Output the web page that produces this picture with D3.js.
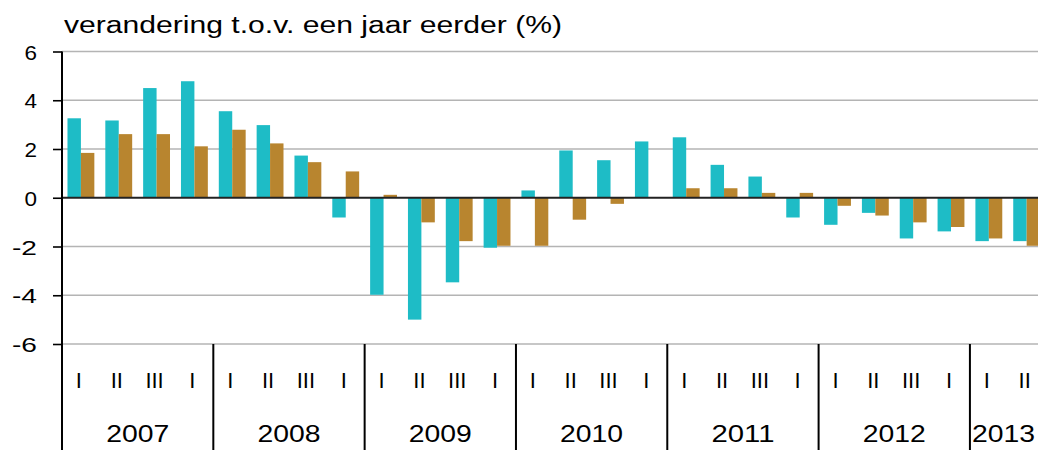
<!DOCTYPE html>
<html><head><meta charset="utf-8">
<script src="https://cdn.jsdelivr.net/npm/d3@7"></script>
<style>
html,body{margin:0;padding:0;background:#fff;overflow:hidden;}
text{font-family:"Liberation Sans",Arial,sans-serif;fill:#000;}
</style></head>
<body>
<svg id="chart" width="1038" height="450"></svg>
<script>
const title = "verandering t.o.v. een jaar eerder (%)";
const years = ["2007","2008","2009","2010","2011","2012","2013"];
const quarterLabels = ["I","II","III","I"];
const quarters = [
 "2007-1","2007-2","2007-3","2007-4","2008-1","2008-2","2008-3","2008-4",
 "2009-1","2009-2","2009-3","2009-4","2010-1","2010-2","2010-3","2010-4",
 "2011-1","2011-2","2011-3","2011-4","2012-1","2012-2","2012-3","2012-4",
 "2013-1","2013-2"];
const seriesA = [3.26,3.17,4.5,4.78, 3.55,2.98,1.73,-0.81, -3.98,-5.0,-3.47,-2.05,
  0.3,1.94,1.54,2.31, 2.48,1.35,0.87,-0.81, -1.11,-0.62,-1.67,-1.38, -1.78,-1.78];
const seriesB = [1.84,2.61,2.61,2.11, 2.79,2.23,1.46,1.08, 0.12,-1.01,-1.78,-1.97,
  -1.97,-0.9,-0.25,0, 0.39,0.39,0.2,0.2, -0.33,-0.73,-1.01,-1.2, -1.67,-1.97];
const yTicks = [-6,-4,-2,0,2,4,6];
const seriesNames = ["a","b"];
const colors = ["#1EBCC6","#B8852F"];

const svg = d3.select("#chart");
const x0 = 62, qw = 37.83;
const x = d3.scaleBand().domain(quarters).range([x0, x0 + qw*quarters.length])
  .paddingInner(0.29).paddingOuter(0.145);
const xs = d3.scaleBand().domain(seriesNames).range([0, x.bandwidth()]);
const y = d3.scaleLinear().domain([-6,6]).range([344,51.5]);

// gridlines
svg.append("g").selectAll("line").data(yTicks.filter(d=>d!==0)).join("line")
  .attr("x1", x0).attr("x2", 1038)
  .attr("y1", d=>y(d)).attr("y2", d=>y(d))
  .attr("stroke","#b4b4b4").attr("stroke-width",1.6);

// bars
const data = quarters.map((q,i)=>({q, vals:[seriesA[i],seriesB[i]]}));
const g = svg.append("g");
data.forEach(d=>{
  d.vals.forEach((v,j)=>{
    g.append("rect")
      .attr("x", x(d.q) + xs(seriesNames[j]))
      .attr("width", xs.bandwidth())
      .attr("y", y(Math.max(0,v)))
      .attr("height", Math.abs(y(v)-y(0)))
      .attr("fill", colors[j]);
  });
});

// zero line
svg.append("line").attr("x1",x0).attr("x2",1038).attr("y1",y(0)).attr("y2",y(0))
  .attr("stroke","#222").attr("stroke-width",1.8);

// y axis
const yAxis = d3.axisLeft(y).tickValues(yTicks).tickSize(9).tickFormat(d=>d);
const ya = svg.append("g").attr("transform",`translate(${x0},0)`).call(yAxis);
ya.select(".domain").remove();
ya.selectAll(".tick line").attr("stroke","#000").attr("stroke-width",1.6);
ya.selectAll(".tick text").attr("x",-25).attr("dy","0.36em")
  .style("font-size","21px").attr("fill","#000")
  .each(function(d){ d3.select(this).attr("textLength", String(d).length*12.5).attr("lengthAdjust","spacingAndGlyphs"); });
svg.append("line").attr("x1",x0).attr("x2",x0).attr("y1",51.5).attr("y2",450)
  .attr("stroke","#000").attr("stroke-width",2);

// year separators
const yearStarts = years.map((yr,i)=>x0 + i*4*qw);
svg.append("g").selectAll("line").data(yearStarts.slice(1)).join("line")
  .attr("x1",d=>d).attr("x2",d=>d).attr("y1",344).attr("y2",450)
  .attr("stroke","#000").attr("stroke-width",2);

// quarter labels
svg.append("g").selectAll("text").data(quarters).join("text")
  .attr("x", d=>x(d)+x.bandwidth()/2 - 2)
  .attr("y", 388)
  .attr("text-anchor","middle")
  .style("font-size","22px")
  .text((d,i)=>quarterLabels[i%4]);

// year labels
svg.append("g").selectAll("text").data(years).join("text")
  .attr("x", (d,i)=> i===years.length-1 ? yearStarts[i]+2 : yearStarts[i] + 2*qw)
  .attr("y", 442)
  .attr("text-anchor",(d,i)=> i===years.length-1 ? "start" : "middle")
  .attr("textLength", 63).attr("lengthAdjust","spacingAndGlyphs")
  .style("font-size","23px")
  .text(d=>d);

// title
svg.append("text").attr("x",64).attr("y",33)
  .attr("textLength",498).attr("lengthAdjust","spacingAndGlyphs")
  .style("font-size","23px").text(title);
</script>
</body></html>
